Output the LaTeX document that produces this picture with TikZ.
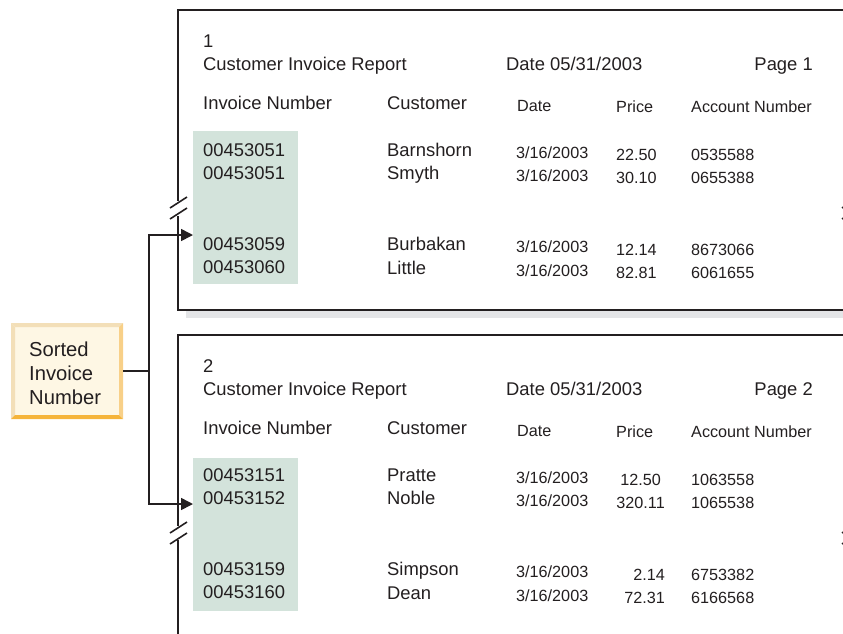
\documentclass[tikz,border=0pt]{standalone}
\usepackage{fontspec}
\setmainfont{Liberation Sans}
\usetikzlibrary{arrows.meta}
\definecolor{ink}{HTML}{231F20}
\definecolor{greenbg}{HTML}{D3E3DB}
\definecolor{shadowc}{HTML}{E4E5E7}
\definecolor{cream}{HTML}{FEF7E4}
\definecolor{bevtop}{HTML}{F3DFB8}
\definecolor{bevbot}{HTML}{F5B43A}
\definecolor{bevright}{HTML}{F8D088}
\begin{document}
\begin{tikzpicture}[x=1pt,y=-1pt,
  big/.style={font=\fontsize{18.4}{22}\selectfont, anchor=base west, inner sep=0pt, text=ink},
  bigr/.style={font=\fontsize{18.4}{22}\selectfont, anchor=base east, inner sep=0pt, text=ink},
  sml/.style={font=\fontsize{16.2}{20}\selectfont, anchor=base west, inner sep=0pt, text=ink},
  smlr/.style={font=\fontsize{16.2}{20}\selectfont, anchor=base east, inner sep=0pt, text=ink},
  boxtxt/.style={font=\fontsize{20.2}{24}\selectfont, anchor=base west, inner sep=0pt, text=ink},
  pageline/.style={draw=ink, line width=2.2pt},
  breakmark/.style={draw=ink, line width=1.6pt},
  greenbox/.style={fill=greenbg, draw=none, anchor=north west, inner sep=0pt, minimum width=105pt, minimum height=153pt},
  conn/.style={draw=ink, line width=1.6pt},
  arr/.style={conn, -{Triangle[length=12pt,width=12pt]}}
]
\useasboundingbox (0,0) rectangle (843,633);
\clip (0,0) rectangle (843,633);

% ---------- Page 1 ----------
\fill[shadowc] (186,311) rectangle (860,318);
\draw[pageline] (178,201) -- (178,10) -- (860,10);
\draw[pageline] (178,216) -- (178,310) -- (860,310);
\draw[breakmark] (170,208) -- (187,197);
\draw[breakmark] (170,219) -- (187,208);
\draw[breakmark] (842,208) -- (858,197);
\draw[breakmark] (842,219) -- (858,208);
\node[greenbox] (g1) at (193,131) {};

\node[big] (p1n) at (203,47.5) {1};
\node[big] (p1t) at (203,70) {Customer Invoice Report};
\node[big] (p1d) at (506,70) {Date 05/31/2003};
\node[bigr] (p1p) at (813,70) {Page 1};
\node[big] (p1h1) at (203,109) {Invoice Number};
\node[big] (p1h2) at (387,109) {Customer};
\node[sml] (p1h3) at (517,111) {Date};
\node[sml] (p1h4) at (616,112) {Price};
\node[sml] (p1h5) at (691,112) {Account Number};

\node[big] (p1a1) at (203,156.5) {00453051};
\node[big] (p1a2) at (387,156.5) {Barnshorn};
\node[sml] (p1a3) at (516,158.5) {3/16/2003};
\node[sml] (p1a4) at (616,160) {22.50};
\node[sml] (p1a5) at (691,160) {0535588};

\node[big] (p1b1) at (203,179.5) {00453051};
\node[big] (p1b2) at (387,179.5) {Smyth};
\node[sml] (p1b3) at (516,181.5) {3/16/2003};
\node[sml] (p1b4) at (616,183) {30.10};
\node[sml] (p1b5) at (691,183) {0655388};

\node[big] (p1c1) at (203,250) {00453059};
\node[big] (p1c2) at (387,250.5) {Burbakan};
\node[sml] (p1c3) at (516,252.5) {3/16/2003};
\node[sml] (p1c4) at (616,255) {12.14};
\node[sml] (p1c5) at (691,255) {8673066};

\node[big] (p1d1) at (203,273.5) {00453060};
\node[big] (p1d2) at (387,274) {Little};
\node[sml] (p1d3) at (516,276) {3/16/2003};
\node[sml] (p1d4) at (616,278) {82.81};
\node[sml] (p1d5) at (691,278) {6061655};

% ---------- Page 2 ----------
\draw[pageline] (178,526) -- (178,335) -- (860,335);
\draw[pageline] (178,540) -- (178,640);
\draw[breakmark] (170,533) -- (187,522);
\draw[breakmark] (170,544) -- (187,533);
\draw[breakmark] (842,533) -- (858,522);
\draw[breakmark] (842,544) -- (858,533);
\node[greenbox] (g2) at (193,458) {};

\node[big] (p2n) at (203,372.5) {2};
\node[big] (p2t) at (203,395) {Customer Invoice Report};
\node[big] (p2d) at (506,395) {Date 05/31/2003};
\node[bigr] (p2p) at (813,395) {Page 2};
\node[big] (p2h1) at (203,434) {Invoice Number};
\node[big] (p2h2) at (387,434) {Customer};
\node[sml] (p2h3) at (517,436) {Date};
\node[sml] (p2h4) at (616,437) {Price};
\node[sml] (p2h5) at (691,437) {Account Number};

\node[big] (p2a1) at (203,481.5) {00453151};
\node[big] (p2a2) at (387,481.5) {Pratte};
\node[sml] (p2a3) at (516,483.5) {3/16/2003};
\node[smlr] (p2a4) at (661,485) {12.50};
\node[sml] (p2a5) at (691,485) {1063558};

\node[big] (p2b1) at (203,504.5) {00453152};
\node[big] (p2b2) at (387,504.5) {Noble};
\node[sml] (p2b3) at (516,506.5) {3/16/2003};
\node[smlr] (p2b4) at (665,508) {320.11};
\node[sml] (p2b5) at (691,508) {1065538};

\node[big] (p2c1) at (203,575) {00453159};
\node[big] (p2c2) at (387,575.5) {Simpson};
\node[sml] (p2c3) at (516,577.5) {3/16/2003};
\node[smlr] (p2c4) at (665,580) {2.14};
\node[sml] (p2c5) at (691,580) {6753382};

\node[big] (p2d1) at (203,598.5) {00453160};
\node[big] (p2d2) at (387,599) {Dean};
\node[sml] (p2d3) at (516,601) {3/16/2003};
\node[smlr] (p2d4) at (665,603) {72.31};
\node[sml] (p2d5) at (691,603) {6166568};

% ---------- Sorted Invoice Number box ----------
\node[fill=cream, draw=none, inner sep=0pt, minimum width=112pt, minimum height=96pt] (sorted) at (67,371) {};
\fill[bevtop] (11,323) -- (123,323) -- (119,327) -- (15,327) -- cycle;
\fill[bevtop] (11,323) -- (15,327) -- (15,415) -- (11,419) -- cycle;
\fill[bevright] (123,323) -- (123,419) -- (119,415) -- (119,327) -- cycle;
\fill[bevbot] (11,419) -- (123,419) -- (119,415) -- (15,415) -- cycle;
\node[boxtxt] (s1) at (29,356) {Sorted};
\node[boxtxt] (s2) at (29,380) {Invoice};
\node[boxtxt] (s3) at (29,404) {Number};

% ---------- connectors ----------
\coordinate (j) at (149,371);
\coordinate (a1) at (g1.west |- 0,235);
\coordinate (a2) at (g2.west |- 0,504);
\draw[conn] (sorted.east) -- (j);
\draw[arr] (j) |- (a1);
\draw[arr] (j) |- (a2);
\end{tikzpicture}
\end{document}
